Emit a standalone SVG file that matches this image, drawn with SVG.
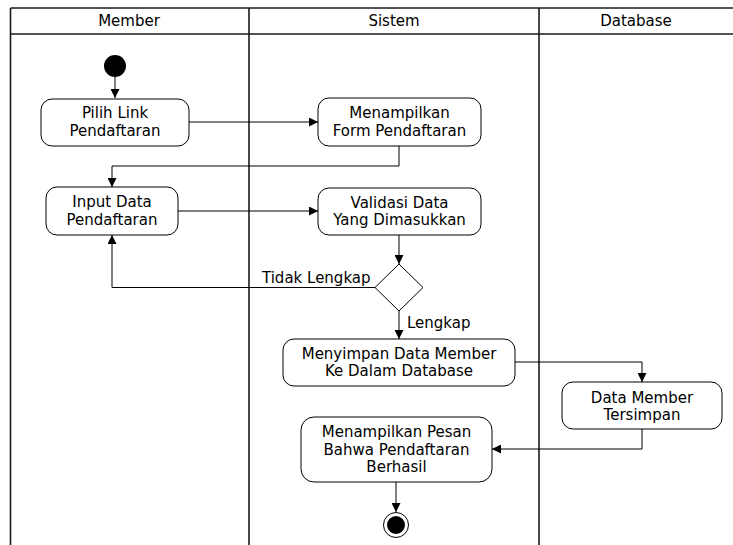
<svg xmlns="http://www.w3.org/2000/svg" width="733" height="545" viewBox="0 0 733 545">
<defs>
<style>
.lane{stroke:#1a1a1a;stroke-width:1.6;fill:none}
.box{fill:#fff;stroke:#000;stroke-width:1}
.t{font-family:"DejaVu Sans","Verdana",sans-serif;font-size:15px;fill:#000;text-anchor:middle}
.l{font-family:"DejaVu Sans","Verdana",sans-serif;font-size:15px;fill:#000}
.c{stroke:#000;stroke-width:1;fill:none}
</style>
<marker id="ah" viewBox="0 0 10 10" refX="10" refY="5" markerWidth="9" markerHeight="9" markerUnits="userSpaceOnUse" orient="auto">
<path d="M0,0 L10,5 L0,10 z" fill="#000"/>
</marker>
</defs>
<rect width="733" height="545" fill="#fff"/>
<g id="lanes">
<line class="lane" x1="10.5" y1="8" x2="733" y2="8"/>
<line class="lane" x1="10.5" y1="34" x2="733" y2="34"/>
<line class="lane" x1="10.5" y1="8" x2="10.5" y2="545"/>
<line class="lane" x1="249" y1="8" x2="249" y2="545"/>
<line class="lane" x1="539" y1="8" x2="539" y2="545"/>
<text class="t" x="129" y="26">Member</text>
<text class="t" x="394" y="26">Sistem</text>
<text class="t" x="636" y="26">Database</text>
</g>
<g id="connectors">
<line class="c" x1="115" y1="77" x2="115" y2="98" marker-end="url(#ah)"/>
<line class="c" x1="189" y1="122" x2="318" y2="122" marker-end="url(#ah)"/>
<polyline class="c" points="399,146 399,166 112,166 112,187" marker-end="url(#ah)"/>
<line class="c" x1="178" y1="211" x2="318" y2="211" marker-end="url(#ah)"/>
<line class="c" x1="399" y1="235" x2="399" y2="264" marker-end="url(#ah)"/>
<polyline class="c" points="375,287.5 112,287.5 112,235" marker-end="url(#ah)"/>
<line class="c" x1="399" y1="311" x2="399" y2="339" marker-end="url(#ah)"/>
<polyline class="c" points="515,362 642,362 642,382" marker-end="url(#ah)"/>
<polyline class="c" points="642,429 642,449 492,449" marker-end="url(#ah)"/>
<line class="c" x1="396" y1="482" x2="396" y2="512" marker-end="url(#ah)"/>
<text class="l" x="262" y="283">Tidak Lengkap</text>
<text class="l" x="407" y="328">Lengkap</text>
</g>
<g id="start"><circle cx="115" cy="66" r="11" fill="#000"/></g>
<g id="pilih-link">
<rect class="box" x="41" y="99" width="148" height="47" rx="11"/>
<text class="t" x="115" y="118">Pilih Link</text>
<text class="t" x="115" y="136">Pendaftaran</text>
</g>
<g id="menampilkan-form">
<rect class="box" x="318" y="98" width="163" height="48" rx="11"/>
<text class="t" x="399.5" y="118">Menampilkan</text>
<text class="t" x="399.5" y="136">Form Pendaftaran</text>
</g>
<g id="input-data">
<rect class="box" x="46" y="187" width="132" height="48" rx="11"/>
<text class="t" x="112" y="207">Input Data</text>
<text class="t" x="112" y="225">Pendaftaran</text>
</g>
<g id="validasi">
<rect class="box" x="318" y="188" width="163" height="47" rx="11"/>
<text class="t" x="399.5" y="208">Validasi Data</text>
<text class="t" x="399.5" y="225">Yang Dimasukkan</text>
</g>
<g id="decision">
<polygon class="box" points="399,264 423,287.5 399,311 375,287.5"/>
</g>
<g id="menyimpan">
<rect class="box" x="283" y="339" width="232" height="47" rx="11"/>
<text class="t" x="399" y="359">Menyimpan Data Member</text>
<text class="t" x="399" y="376">Ke Dalam Database</text>
</g>
<g id="data-tersimpan">
<rect class="box" x="562" y="382" width="160" height="47" rx="11"/>
<text class="t" x="642" y="403">Data Member</text>
<text class="t" x="642" y="420">Tersimpan</text>
</g>
<g id="menampilkan-pesan">
<rect class="box" x="301" y="417" width="191" height="65" rx="13"/>
<text class="t" x="396.5" y="437">Menampilkan Pesan</text>
<text class="t" x="396.5" y="455">Bahwa Pendaftaran</text>
<text class="t" x="396.5" y="472">Berhasil</text>
</g>
<g id="end">
<circle cx="396" cy="525" r="12.5" fill="#fff" stroke="#000" stroke-width="1"/>
<circle cx="396" cy="525" r="9" fill="#000"/>
</g>
</svg>
